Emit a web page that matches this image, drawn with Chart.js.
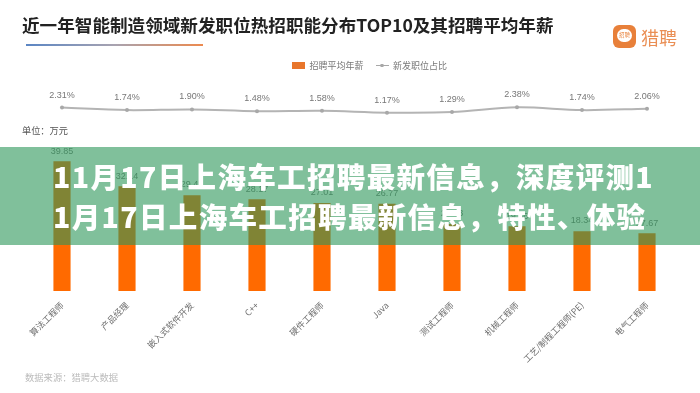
<!DOCTYPE html>
<html lang="zh">
<head>
<meta charset="utf-8">
<title>近一年智能制造领域新发职位热招职能分布TOP10</title>
<script src="https://cdn.jsdelivr.net/npm/chart.js@4"></script>
<style>
    html, body { margin: 0; padding: 0; background: #fff; overflow: hidden; }
    body { width: 700px; height: 393px; position: relative; font-family: "Noto Sans CJK SC", sans-serif; }
    #wrap { position: absolute; left: 0; top: 0; width: 700px; height: 393px; filter: blur(0.45px); }
    #wrap div { position: absolute; white-space: nowrap; }
    #heading { left: 22px; top: 13px; font-size: 17.6px; line-height: 24px; font-weight: 700; color: #222; }
    #rule { left: 26px; top: 44px; width: 177px; height: 1.5px; background: linear-gradient(90deg, #5b86c4, #a8a3b0 50%, #ec8a4f); }
    #unit { left: 22px; top: 123px; font-size: 9.2px; line-height: 14px; color: #555; }
    #source { left: 25px; top: 370px; font-size: 9.3px; line-height: 14px; color: #bbb; }
    #logoIcon { left: 613px; top: 25px; width: 23px; height: 23px; border-radius: 6px; background: #e8803a; }
    #logoBubble { left: 4px; top: 4px; width: 15px; height: 13px; border-radius: 7px; background: #fff; color: #e8803a; font-size: 5.5px; line-height: 13px; text-align: center; }
    #logoText { left: 641px; top: 25px; font-size: 18px; line-height: 24px; color: #ea8f55; font-weight: 400; }
    #chart { position: absolute; left: 0; top: 0; }
    #band { position: absolute; left: 0; top: 147px; width: 700px; height: 98px; background: rgba(43, 150, 88, 0.6); }
    #band div { position: absolute; left: 53px; color: #fff; font-weight: 900; font-size: 28.5px; line-height: 40px; letter-spacing: 1.35px; white-space: nowrap; }
</style>
</head>
<body>
<div id="wrap">
    <canvas id="chart" width="700" height="393"></canvas>
    <div id="heading">近一年智能制造领域新发职位热招职能分布TOP10及其招聘平均年薪</div>
    <div id="rule"></div>
    <div id="unit">单位：万元</div>
    <div id="source">数据来源：猎聘大数据</div>
    <div id="logoIcon"><div id="logoBubble">招聘</div></div>
    <div id="logoText">猎聘</div>
</div>
<div id="band">
    <div style="top:9px">11月17日上海车工招聘最新信息，深度评测1</div>
    <div style="top:49px">1月17日上海车工招聘最新信息，特性、体验</div>
</div>
<script>
    const categories = ["算法工程师", "产品经理", "嵌入式软件开发", "C++", "硬件工程师", "Java", "测试工程师", "机械工程师", "工艺/制程工程师(PE)", "电气工程师"];
    const salaryValues = [39.85, 32.14, 29.43, 28.17, 27.01, 26.77, 20.53, 19.86, 18.34, 17.67];
    const shareValues = [2.31, 1.74, 1.90, 1.48, 1.58, 1.17, 1.29, 2.38, 1.74, 2.06];
    const salaryName = "招聘平均年薪";
    const shareName = "新发职位占比";

    const ORANGE = "#ff6a00";
    const GREY_LINE = "#b4b4b4";

    function makeSwatch(draw) {
        const c = document.createElement("canvas");
        c.width = 13;
        c.height = 7;
        draw(c.getContext("2d"));
        return c;
    }

    const barSwatch = makeSwatch(ctx => {
        ctx.fillStyle = "#e8762c";
        ctx.fillRect(0, 0, 13, 7);
    });
    const lineSwatch = makeSwatch(ctx => {
        ctx.fillStyle = "#a8a8a8";
        ctx.fillRect(0, 3, 13, 1);
        ctx.fillRect(5, 2, 3, 3);
    });

    // value labels above the bars and the line points
    const valueLabels = {
        id: "valueLabels",
        afterDatasetsDraw(chart) {
            const ctx = chart.ctx;
            ctx.save();
            ctx.textAlign = "center";
            ctx.textBaseline = "middle";
            ctx.fillStyle = "#777";
            ctx.font = '9px "Liberation Sans", sans-serif';
            chart.getDatasetMeta(0).data.forEach((el, i) => {
                ctx.fillText(salaryValues[i].toFixed(2), el.x, el.y - 10.5);
            });
            chart.getDatasetMeta(1).data.forEach((el, i) => {
                ctx.fillText(shareValues[i].toFixed(2) + "%", el.x, el.y - 12.5);
            });
            ctx.restore();
        }
    };

    // the legend sits right of centre in the original
    const shiftLegend = {
        id: "shiftLegend",
        afterLayout(chart) {
            chart.legend.left += 15;
            chart.legend.right += 15;
        }
    };

    new Chart(document.getElementById("chart"), {
        type: "bar",
        data: {
            labels: categories,
            datasets: [{
                label: salaryName,
                data: salaryValues,
                backgroundColor: ORANGE,
                barThickness: 16.5,
                yAxisID: "ySalary",
                order: 2
            }, {
                type: "line",
                label: shareName,
                data: shareValues,
                borderColor: GREY_LINE,
                borderWidth: 2,
                tension: 0.35,
                pointRadius: 2,
                pointBackgroundColor: "#a8a8a8",
                pointBorderWidth: 0,
                yAxisID: "yShare",
                order: 1
            }]
        },
        options: {
            responsive: false,
            animation: false,
            layout: { padding: { left: 29.5, right: 20.5, top: 49, bottom: 0 } },
            scales: {
                x: {
                    grid: { display: false },
                    border: { display: false },
                    afterFit(scale) { scale.height = 102; },
                    ticks: {
                        color: "#6f6f6f",
                        font: { size: 8.7, family: '"Noto Sans CJK SC", sans-serif' },
                        minRotation: 45,
                        maxRotation: 45,
                        autoSkip: false,
                        padding: 1
                    }
                },
                ySalary: { display: false, min: 0, max: 65 },
                yShare: { display: false, min: -39, max: 8.52 }
            },
            plugins: {
                tooltip: { enabled: false },
                legend: {
                    position: "top",
                    labels: {
                        color: "#777",
                        font: { size: 9, family: '"Noto Sans CJK SC", sans-serif' },
                        usePointStyle: true,
                        pointStyleWidth: 13,
                        padding: 12,
                        generateLabels() {
                            return [
                                { text: salaryName, pointStyle: barSwatch, datasetIndex: 0, fontColor: "#777" },
                                { text: shareName, pointStyle: lineSwatch, datasetIndex: 1, fontColor: "#777" }
                            ];
                        }
                    }
                }
            }
        },
        plugins: [valueLabels, shiftLegend]
    });
</script>
</body>
</html>
